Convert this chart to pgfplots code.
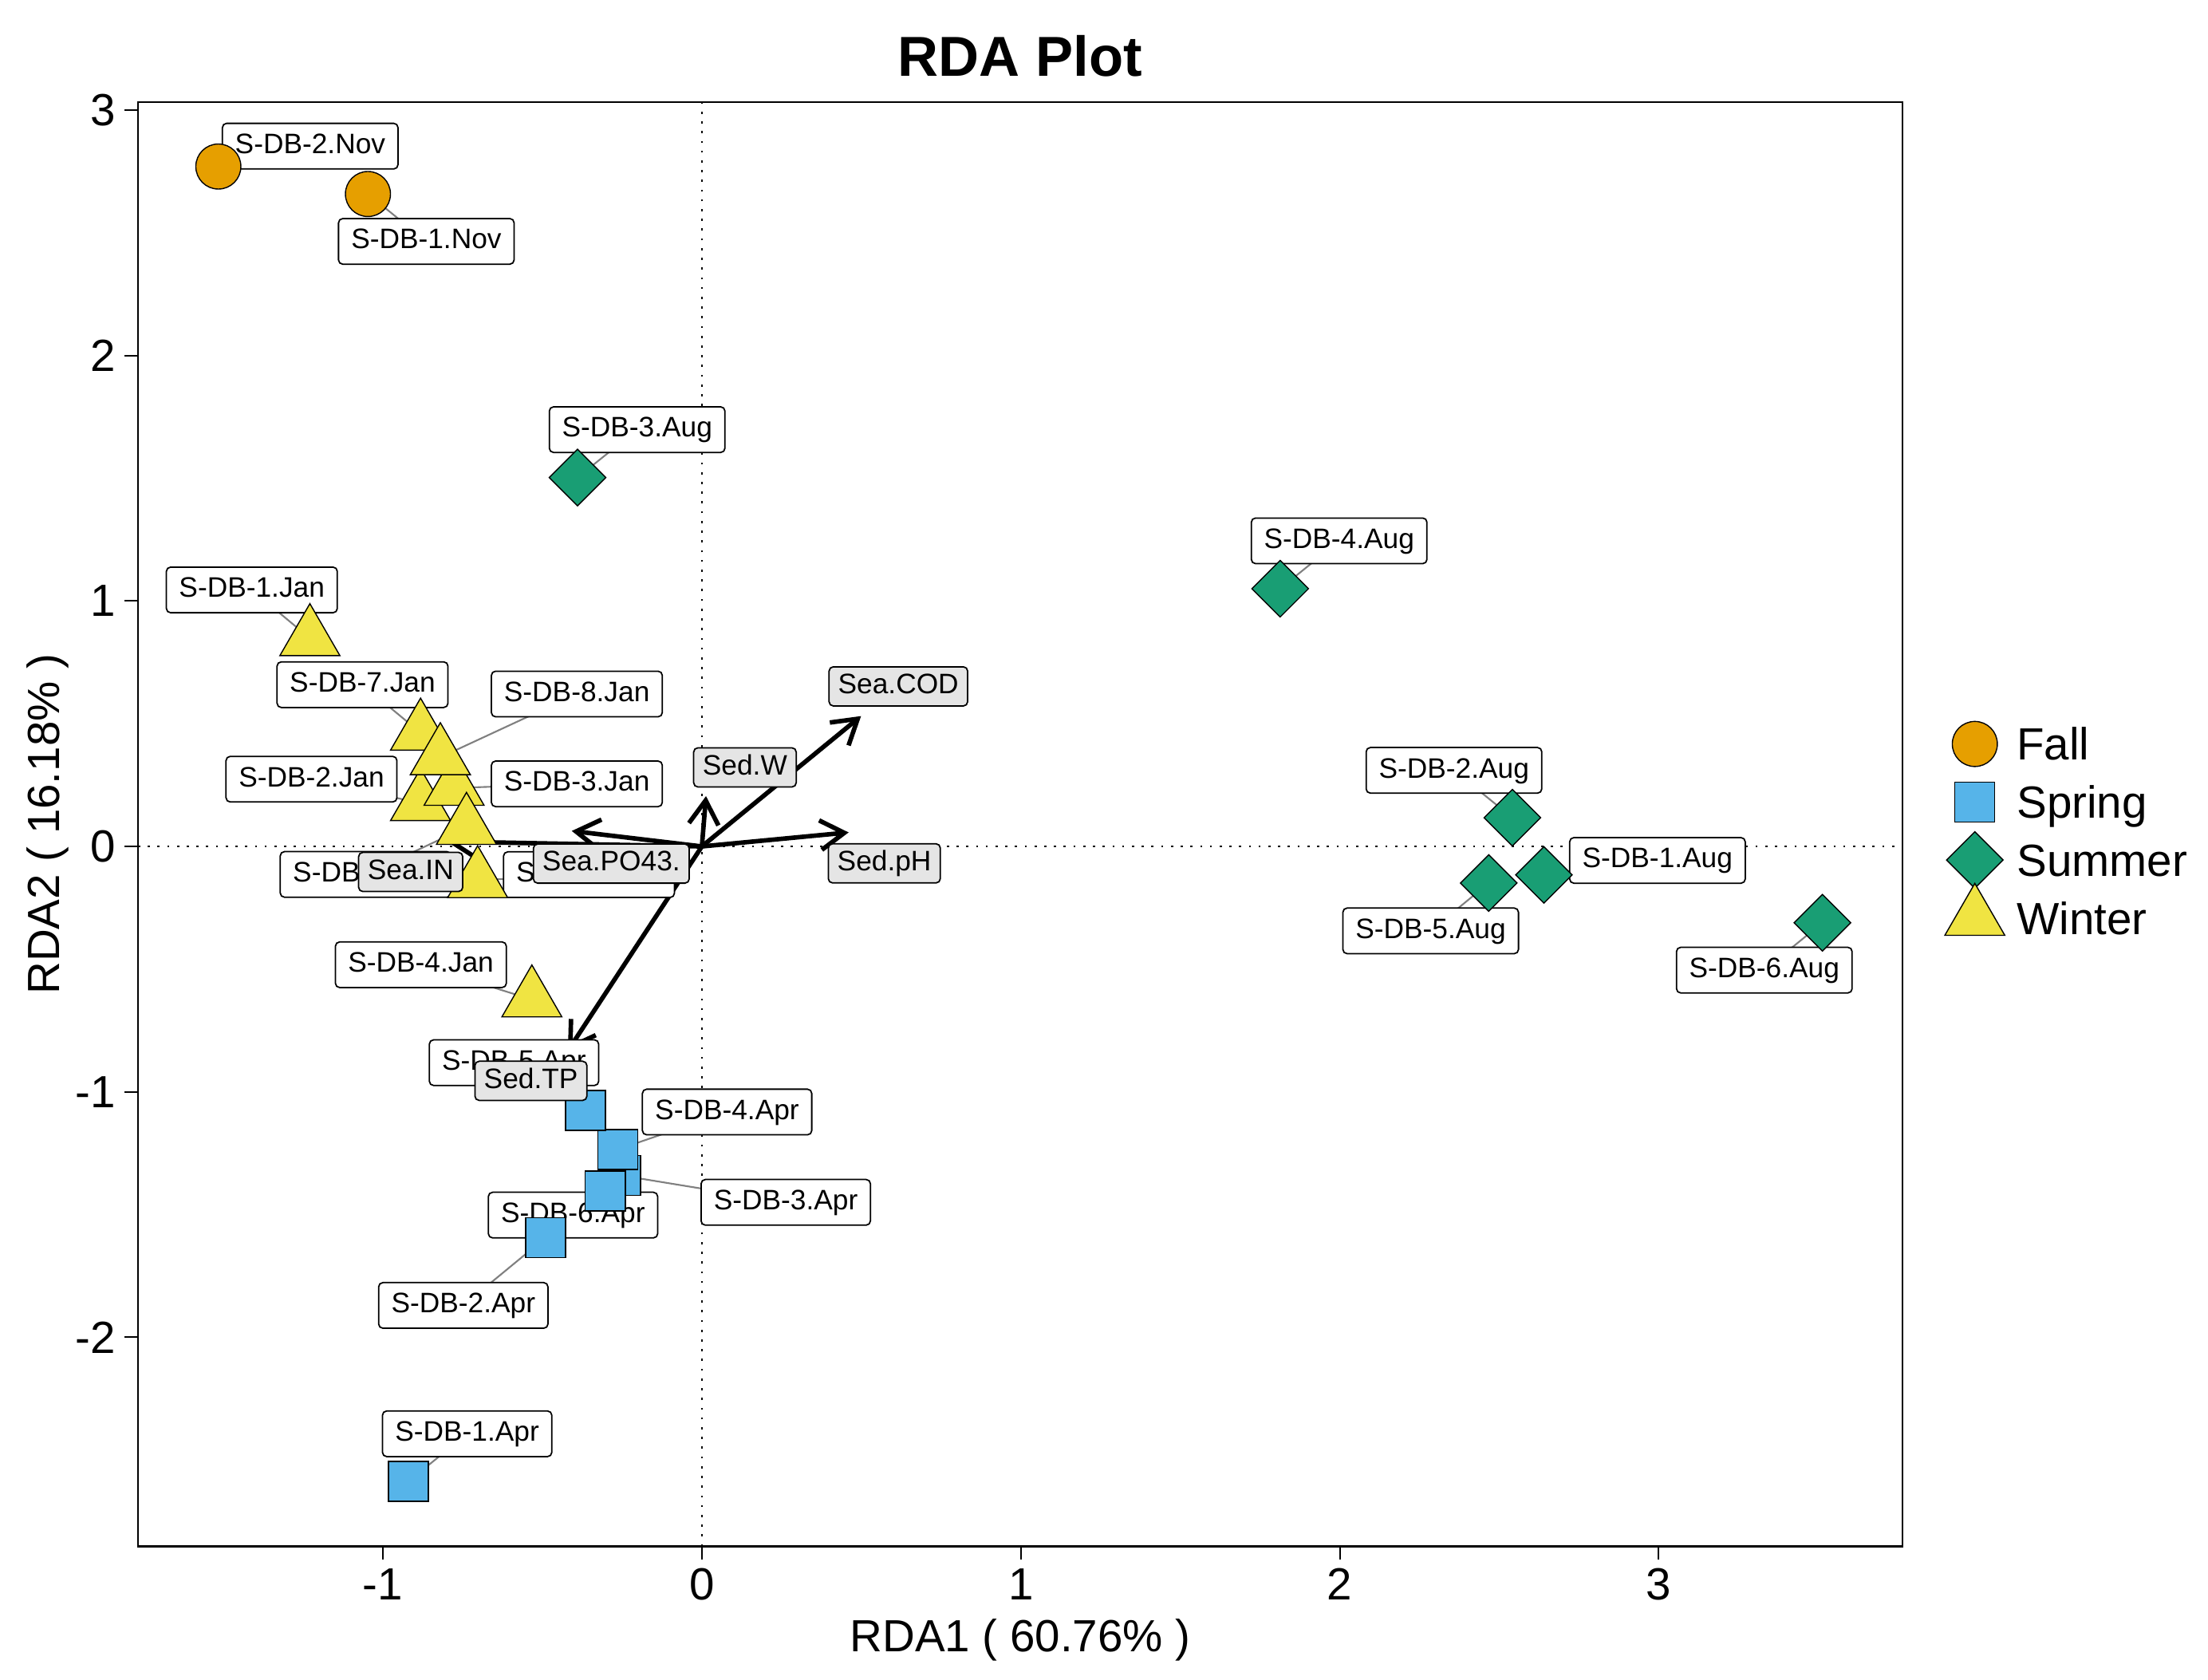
\documentclass[border=0pt]{standalone}
\usepackage{fontspec}
\setmainfont{Liberation Sans}
\usepackage{pgfplots}
\pgfplotsset{compat=1.18}
\usetikzlibrary{arrows.meta}

\definecolor{fallc}{HTML}{E69F00}
\definecolor{springc}{HTML}{56B4E9}
\definecolor{summerc}{HTML}{199E74}
\definecolor{winterc}{HTML}{F0E442}

% sample scores (RDA1, RDA2) and where their labels sit
\pgfplotstableread{
x y label lx ly
-1.516 2.770 S-DB-2.Nov -1.228 2.853
-1.047 2.658 S-DB-1.Nov -0.864 2.465
}\fall
\pgfplotstableread{
x y label lx ly
-0.920 -2.587 S-DB-1.Apr -0.736 -2.393
-0.490 -1.594 S-DB-2.Apr -0.748 -1.870
-0.255 -1.340 S-DB-3.Apr  0.263 -1.450
-0.264 -1.235 S-DB-4.Apr  0.079 -1.082
-0.365 -1.076 S-DB-5.Apr -0.589 -0.881
-0.303 -1.404 S-DB-6.Apr -0.404 -1.502
}\spring
\pgfplotstableread{
x y label lx ly
 2.640 -0.116 S-DB-1.Aug  2.996 -0.057
 2.541  0.117 S-DB-2.Aug  2.358  0.310
-0.390  1.503 S-DB-3.Aug -0.203  1.698
 1.813  1.050 S-DB-4.Aug  1.998  1.245
 2.467 -0.149 S-DB-5.Aug  2.285 -0.344
 3.513 -0.311 S-DB-6.Aug  3.331 -0.504
}\summer
\pgfplotstableread{
x y label lx ly
-1.229  0.848 S-DB-1.Jan -1.411  1.045
-0.882  0.176 S-DB-2.Jan -1.224  0.274
-0.777  0.238 S-DB-3.Jan -0.392  0.255
-0.533 -0.624 S-DB-4.Jan -0.881 -0.482
-0.738  0.079 S-DB-5.Jan -1.054 -0.114
-0.703 -0.138 S-DB-6.Jan -0.354 -0.115
-0.882  0.463 S-DB-7.Jan -1.064  0.659
-0.820  0.363 S-DB-8.Jan -0.392  0.621
}\winter
% environmental arrows
\pgfplotstableread{
x y label lx ly
 0.499  0.531 Sea.COD    0.616  0.652
 0.013  0.205 Sed.W      0.135  0.322
 0.460  0.057 Sed.pH     0.572 -0.069
-0.408  0.063 Sea.PO43. -0.284 -0.070
-0.800  0.020 Sea.IN    -0.913 -0.104
-0.420 -0.832 Sed.TP    -0.536 -0.955
}\env

\newcommand\labfont{\fontsize{10}{12}\selectfont}
\newcommand\bigfont{\fontsize{16}{19}\selectfont}

\tikzset{
  whitelab/.style={draw=black, fill=white, line width=0.5pt, rounded corners=1.5pt,
    font=\labfont, inner xsep=4.5pt, inner ysep=3.35pt, text height=7.4pt, text depth=2.1pt},
  greylab/.style={draw=black, fill=gray!20, line width=0.5pt, rounded corners=1.5pt,
    font=\labfont, inner xsep=3.2pt, inner ysep=2.2pt, text height=7.4pt, text depth=2.1pt},
  envarrow/.style={black, line width=1.6pt, line cap=round, line join=round,
    -{Straight Barb[length=8.5pt,width=10.5pt]}},
}

\pgfplotsset{
  labels/.style={forget plot, only marks, mark=none, nodes near coords,
    point meta=explicit symbolic, nodes near coords align={anchor=center},
    every node near coord/.append style={#1}},
  pts/.style={only marks, mark options={draw=black, line width=0.5pt}},
}

\begin{document}
\begin{tikzpicture}
\begin{axis}[
    scale only axis,
    width=626.5pt, height=512.7pt,
    xmin=-1.768, xmax=3.764,
    ymin=-2.851, ymax=3.032,
    xtick={-1,0,1,2,3},
    ytick={-2,-1,0,1,2,3},
    tick align=outside, tick pos=left,
    major tick length=4.7pt,
    every tick/.style={black, line width=0.57pt},
    axis line style={line width=0.7pt},
    tick label style={font=\bigfont},
    xticklabel style={inner sep=3pt},
    yticklabel style={inner sep=3pt},
    /pgf/number format/assume math mode=true,
    title={RDA Plot},
    every axis title/.style={font=\fontsize{20}{24}\selectfont\bfseries,
      at={(axis description cs:0.5,1.0183)}, anchor=base, inner sep=0pt},
    xlabel={RDA1 ( 60.76\% )},
    xlabel style={font=\bigfont, at={(axis description cs:0.5,-0.0728)}, anchor=base, inner sep=0pt},
    ylabel={RDA2 ( 16.18\% )},
    ylabel style={font=\bigfont, at={(axis description cs:-0.0443,0.5)}, anchor=base, inner sep=0pt},
    legend cell align=left,
    legend image code/.code={\path[draw=none, fill=none] (0cm,-1pt) rectangle (0.6cm,1pt);
      \draw[#1,overlay] plot coordinates {(0.3cm,0cm)};},
    legend style={draw=none, fill=none, at={(axis description cs:1.0271,0.4953)}, anchor=west,
      inner sep=0pt, font=\bigfont, row sep=9.1pt, column sep=6.4pt,
      nodes={inner sep=0pt, text height=11.5pt, text depth=0pt}},
]
% reference lines through the origin
\addplot[forget plot, black, line width=0.6pt, dash pattern=on 0.76pt off 2.7pt]
  coordinates {(0,-2.851) (0,3.032)};
\addplot[forget plot, black, line width=0.6pt, dash pattern=on 0.76pt off 2.7pt]
  coordinates {(-1.768,0) (3.764,0)};

% leader lines from points to labels
\addplot[forget plot, gray, line width=0.6pt, unbounded coords=jump] coordinates {
(-1.516,2.770)(-1.228,2.853) (nan,nan)
(-1.047,2.658)(-0.864,2.465) (nan,nan)
(-0.920,-2.587)(-0.736,-2.393) (nan,nan)
(-0.490,-1.594)(-0.748,-1.870) (nan,nan)
(-0.255,-1.340)(0.263,-1.450) (nan,nan)
(-0.264,-1.235)(0.079,-1.082) (nan,nan)
(-0.365,-1.076)(-0.589,-0.881) (nan,nan)
(-0.303,-1.404)(-0.404,-1.502) (nan,nan)
(2.640,-0.116)(2.996,-0.057) (nan,nan)
(2.541,0.117)(2.358,0.310) (nan,nan)
(-0.390,1.503)(-0.203,1.698) (nan,nan)
(1.813,1.050)(1.998,1.245) (nan,nan)
(2.467,-0.149)(2.285,-0.344) (nan,nan)
(3.513,-0.311)(3.331,-0.504) (nan,nan)
(-1.229,0.848)(-1.411,1.045) (nan,nan)
(-0.882,0.176)(-1.224,0.274) (nan,nan)
(-0.777,0.238)(-0.392,0.255) (nan,nan)
(-0.533,-0.624)(-0.881,-0.482) (nan,nan)
(-0.738,0.079)(-1.054,-0.114) (nan,nan)
(-0.703,-0.138)(-0.354,-0.115) (nan,nan)
(-0.882,0.463)(-1.064,0.659) (nan,nan)
(-0.820,0.363)(-0.392,0.621)
};

% sample labels
\addplot[labels=whitelab] table[x=lx, y=ly, meta=label] {\fall};
\addplot[labels=whitelab] table[x=lx, y=ly, meta=label] {\spring};
\addplot[labels=whitelab] table[x=lx, y=ly, meta=label] {\summer};
\addplot[labels=whitelab] table[x=lx, y=ly, meta=label] {\winter};

% samples
\addplot[pts, mark=*, mark size=8pt, mark options={fill=fallc}] table[x=x, y=y] {\fall};
\addlegendentry{Fall}
\addplot[pts, mark=square*, mark size=7.1pt, mark options={fill=springc}] table[x=x, y=y] {\spring};
\addlegendentry{Spring}
\addplot[pts, mark=square*, mark size=7.1pt, mark options={fill=summerc, rotate=45}] table[x=x, y=y] {\summer};
\addlegendentry{Summer}
\addplot[pts, mark=triangle*, mark size=12.3pt, mark options={fill=winterc}] table[x=x, y=y] {\winter};
\addlegendentry{Winter}

% environmental variable labels and arrows
\addplot[labels=greylab] table[x=lx, y=ly, meta=label] {\env};
\addplot[forget plot, envarrow] coordinates {(0,0) (0.499,0.531)};
\addplot[forget plot, envarrow] coordinates {(0,0) (0.013,0.205)};
\addplot[forget plot, envarrow] coordinates {(0,0) (0.460,0.057)};
\addplot[forget plot, envarrow] coordinates {(0,0) (-0.408,0.063)};
\addplot[forget plot, envarrow] coordinates {(0,0) (-0.800,0.020)};
\addplot[forget plot, envarrow] coordinates {(0,0) (-0.420,-0.832)};

\coordinate (bl) at (rel axis cs:-0.0782,-0.0926);
\coordinate (tr) at (rel axis cs:1.1732,1.0708);
\end{axis}
\path (bl) rectangle (tr);
\end{tikzpicture}
\end{document}
